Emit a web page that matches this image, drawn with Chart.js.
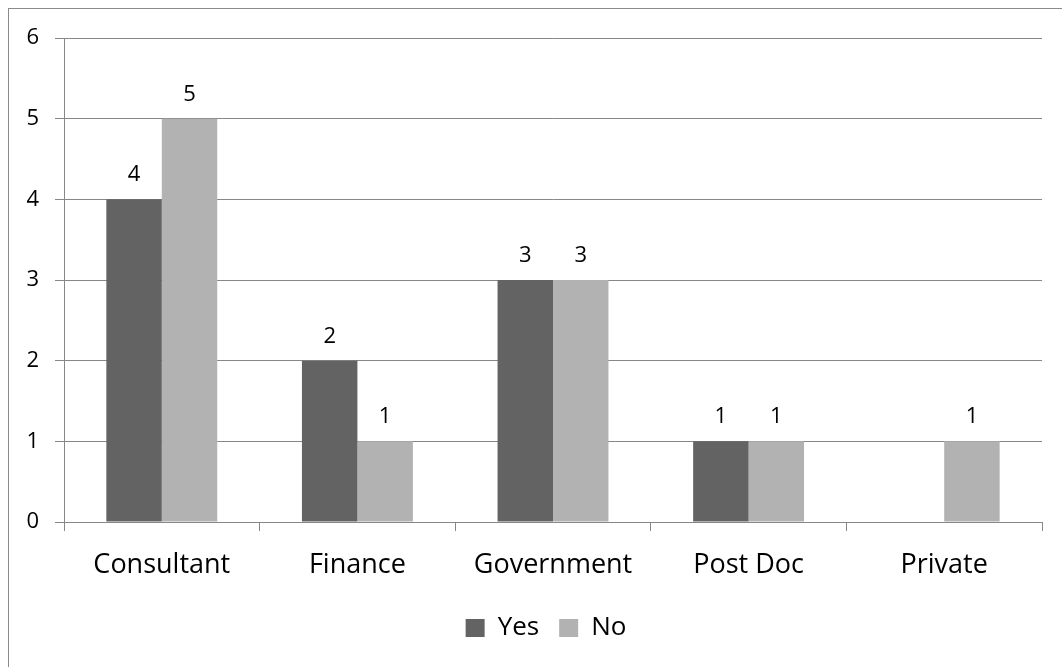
<!DOCTYPE html>
<html>
<head>
<meta charset="utf-8">
<script src="https://cdn.jsdelivr.net/npm/chart.js@4"></script>
<style>
  html, body { margin: 0; padding: 0; background: #fff; overflow: hidden; }
  #wrap { position: absolute; left: 0; top: 0; width: 1062px; height: 667px; }
  #frame { position: absolute; left: 8px; top: 8px; width: 1200px; height: 800px; border: 1px solid #8a8a8a; }
  canvas { position: absolute; left: 0; top: 0; }
</style>
</head>
<body>
<div id="wrap">
  <div id="frame"></div>
  <canvas id="grafico" width="1062" height="667"></canvas>
</div>
<script>
const categorias = ['Consultant', 'Finance', 'Government', 'Post Doc', 'Private'];
const valoresYes = [4, 2, 3, 1, 0];
const valoresNo = [5, 1, 3, 1, 1];
const marcasY = [0, 1, 2, 3, 4, 5, 6];

const colorGrid = '#878787';
const fuente = "'Open Sans', sans-serif";

// etiquetas de valor encima de cada barra
const etiquetasValor = {
    id: 'etiquetasValor',
    afterDatasetsDraw(chart) {
        const ctx = chart.ctx;
        ctx.save();
        ctx.font = '22px ' + fuente;
        ctx.fillStyle = '#000';
        ctx.textAlign = 'center';
        ctx.textBaseline = 'alphabetic';
        chart.data.datasets.forEach((ds, i) => {
            chart.getDatasetMeta(i).data.forEach((barra, j) => {
                const v = ds.data[j];
                if (!v) return;
                ctx.fillText(String(v), barra.x, barra.y - 18);
            });
        });
        ctx.restore();
    }
};

// la leyenda del original está algo desplazada a la derecha
const moverLeyenda = {
    id: 'moverLeyenda',
    afterLayout(chart) {
        if (chart.legend) chart.legend.left += 50;
    }
};

const ctx = document.getElementById('grafico').getContext('2d');

let chart = new Chart(ctx, {
    type: 'bar',
    data: {
        labels: categorias,
        datasets: [{
            label: 'Yes',
            data: valoresYes,
            backgroundColor: '#636363',
            borderWidth: 0
        }, {
            label: 'No',
            data: valoresNo,
            backgroundColor: '#b2b2b2',
            borderWidth: 0
        }]
    },
    options: {
        responsive: false,
        animation: false,
        layout: { padding: { left: 0, top: 38, right: 20, bottom: 16 } },
        datasets: {
            bar: { categoryPercentage: 0.567, barPercentage: 1.0 }
        },
        scales: {
            x: {
                grid: {
                    drawOnChartArea: false,
                    drawTicks: true,
                    tickLength: 9,
                    color: colorGrid
                },
                border: { display: true, color: colorGrid },
                ticks: {
                    color: '#000',
                    padding: 18,
                    font: { family: fuente, size: 27 },
                    maxRotation: 0
                },
                afterFit(scale) { scale.height = 73; }
            },
            y: {
                min: 0,
                max: 6,
                afterBuildTicks(scale) {
                    scale.ticks = marcasY.map(v => ({ value: v }));
                },
                grid: {
                    color: colorGrid,
                    tickLength: 9
                },
                border: { display: true, color: colorGrid },
                ticks: {
                    color: '#000',
                    padding: 16,
                    font: { family: fuente, size: 22 }
                },
                afterFit(scale) { scale.width = 64; }
            }
        },
        plugins: {
            legend: {
                position: 'bottom',
                labels: {
                    color: '#000',
                    boxWidth: 19,
                    boxHeight: 18,
                    padding: 20,
                    font: { family: fuente, size: 26 }
                }
            },
            tooltip: { enabled: false }
        }
    },
    plugins: [etiquetasValor, moverLeyenda]
});
</script>
</body>
</html>
